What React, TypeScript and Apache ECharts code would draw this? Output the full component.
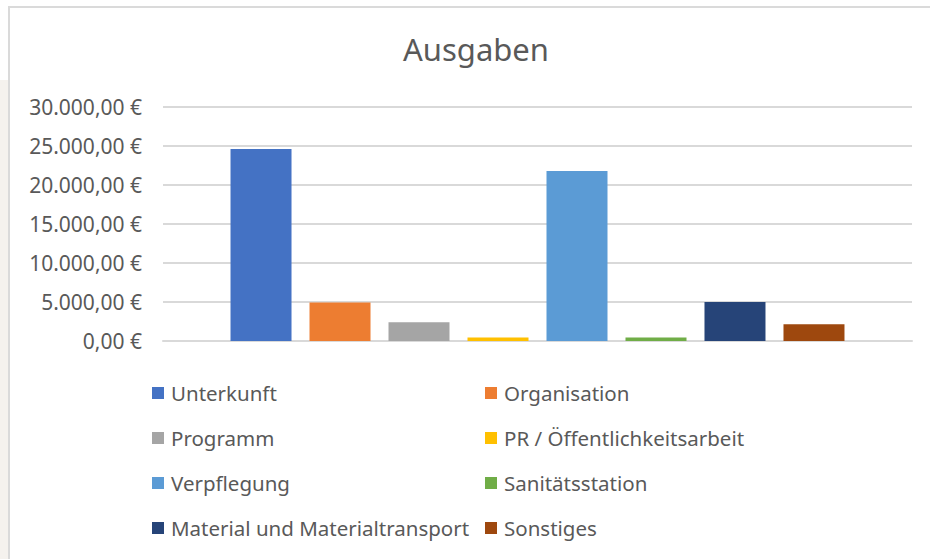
import React, { useEffect, useRef } from "react";
import * as echarts from "echarts";

const seriesNames = [
  "Unterkunft",
  "Organisation",
  "Programm",
  "PR / Öffentlichkeitsarbeit",
  "Verpflegung",
  "Sanitätsstation",
  "Material und Materialtransport",
  "Sonstiges",
];
const seriesValues = [24600, 4950, 2400, 450, 21800, 450, 5000, 2150];
const seriesColors = ["#4472C4", "#ED7D31", "#A5A5A5", "#FFC000", "#5B9BD5", "#70AD47", "#264478", "#9E480E"];
const leftLegend = ["Unterkunft", "Programm", "Verpflegung", "Material und Materialtransport"];
const rightLegend = ["Organisation", "PR / Öffentlichkeitsarbeit", "Sanitätsstation", "Sonstiges"];
const categories = [""];
const yMin = 0;
const yMax = 30000;
const yInterval = 5000;

const FONT = "'Noto Sans', 'Open Sans', sans-serif";

function fmtEuro(v: number): string {
  const s = Math.round(v).toString().replace(/\B(?=(\d{3})+(?!\d))/g, ".");
  return s + ",00 €";
}

export default function App() {
  const ref = useRef<HTMLDivElement>(null);
  useEffect(() => {
    if (!ref.current) return;
    const chart = echarts.init(ref.current, null, { renderer: "svg" });
    const legendCommon = {
      orient: "vertical" as const,
      top: 381,
      padding: 0,
      itemWidth: 12,
      itemHeight: 12,
      itemGap: 21,
      icon: "rect",
      selectedMode: false,
      textStyle: { color: "#595959", fontSize: 20.5, fontFamily: FONT, lineHeight: 24, padding: [0, 0, 0, 2] },
    };
    chart.setOption({
      animation: false,
      backgroundColor: "#ffffff",
      textStyle: { fontFamily: FONT },
      title: {
        text: "Ausgaben",
        left: 403,
        top: 33,
        padding: 0,
        textStyle: { color: "#595959", fontSize: 31, fontWeight: "normal", fontFamily: FONT },
      },
      legend: [
        { ...legendCommon, left: 152, data: leftLegend },
        { ...legendCommon, left: 485, data: rightLegend },
      ],
      grid: { left: 163, right: 18, top: 107, bottom: 218 },
      xAxis: {
        type: "category",
        data: categories,
        axisLine: { show: true, lineStyle: { color: "#d9d9d9", width: 2 } },
        axisTick: { show: false },
        axisLabel: { show: false },
      },
      yAxis: {
        type: "value",
        min: yMin,
        max: yMax,
        interval: yInterval,
        axisLine: { show: false },
        axisTick: { show: false },
        splitLine: { lineStyle: { color: "#d9d9d9", width: 2 } },
        axisLabel: {
          color: "#595959",
          fontSize: 21,
          fontFamily: FONT,
          margin: 21,
          formatter: (v: number) => fmtEuro(v),
        },
      },
      series: seriesNames.map((name, i) => ({
        name,
        type: "bar",
        data: [seriesValues[i]],
        barWidth: 61,
        barGap: "29.5%",
        itemStyle: { color: seriesColors[i] },
      })),
      graphic: [
        { type: "rect", shape: { x: 0, y: 80, width: 8, height: 479 }, style: { fill: "#f5f2ee" }, silent: true },
        { type: "rect", shape: { x: 8, y: 6, width: 2, height: 553 }, style: { fill: "#dadada" }, silent: true },
        { type: "rect", shape: { x: 8, y: 6, width: 922, height: 2 }, style: { fill: "#dadada" }, silent: true },
      ],
    });
    return () => chart.dispose();
  }, []);
  return (
    <div
      ref={ref}
      style={{ position: "fixed", left: 0, top: 0, width: 930, height: 559 }}
    />
  );
}
